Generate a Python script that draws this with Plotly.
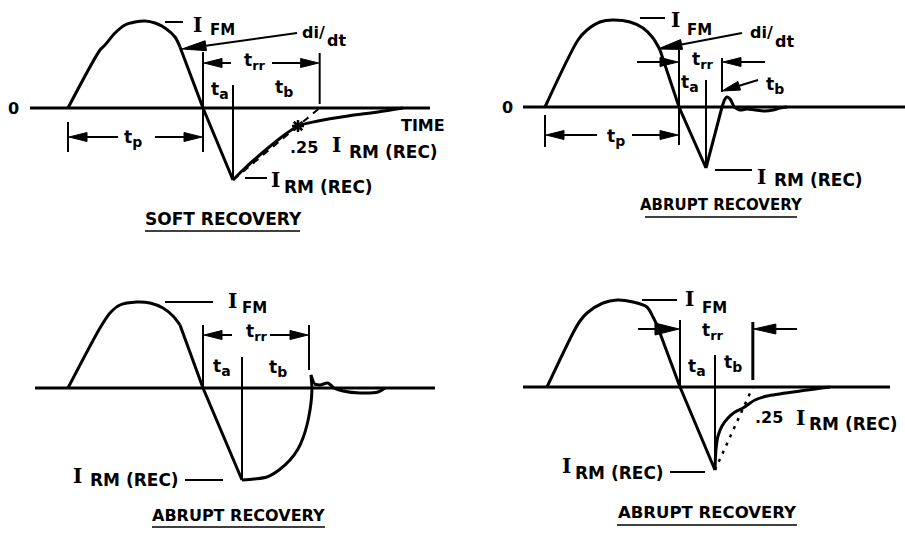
import math
import numpy as np
import plotly.graph_objects as go

FIG_W, FIG_H = 905, 535
INK = "black"
SANS = "DejaVu Sans"
SERIF = "DejaVu Serif"

# ---------------- waveform data: time t vs current i (forward current > 0) ----------------
# Soft recovery
soft_t = [0, 32, 37, 47, 57, 67, 77, 87, 97, 107, 112, 135, 165, 175, 186, 200, 215, 230, 250, 280, 310, 335]
soft_i = [0, 58, 63, 75, 83, 86, 87, 85, 80, 71, 61, 0, -72, -62, -52, -40, -28, -18, -13, -8, -4, 0]

# Abrupt recovery: snap-off with ringing
snap_t = [0, 33, 42, 55, 68, 85, 98, 108, 115, 134, 161, 171, 177, 180, 182, 185, 189, 195, 202, 210, 220, 228, 235, 242]
snap_i = [0, 67, 77, 85, 87, 85, 79, 69, 57, 0, -61, -22, 0, 8, 10, 8, 0, -3, -2, -3, -4, -3, -1, 0]

# Abrupt recovery: rounded t_b, overshoot and ringing
round_t = [0, 32, 42, 52, 69, 82, 95, 105, 112, 135, 174, 186, 199, 211, 222, 230, 235, 239, 242, 243.5, 244,
           243, 246, 252, 260, 266, 275, 292, 310, 317]
round_i = [0, 60, 75, 83, 86, 85, 80, 72, 63, 0, -92, -91, -89, -82, -72, -61, -50, -37, -22, -10, 0,
           13, 4, 3, 5, 0, -3, -5, -4, 0]

# Abrupt recovery: fast t_b with long tail
tail_t = [0, 26, 33, 40, 56, 70, 86, 100, 106, 110, 133, 168, 169, 171, 175, 181, 188, 196, 208, 220, 253, 283]
tail_i = [0, 54, 66, 74, 84, 87, 85, 80, 70, 62, 0, -83, -62, -49, -39, -31, -25, -21, -13, -9, -4, 0]

# drawing pieces of each waveform: (first index, last index, line shape)
soft_pieces = [(0, 10, "spline"), (10, 12, "linear"), (12, 21, "spline")]
snap_pieces = [(0, 8, "spline"), (8, 10, "linear"), (10, 12, "linear"), (12, 16, "spline"), (16, 23, "spline")]
round_pieces = [(0, 8, "spline"), (8, 10, "linear"), (10, 20, "spline"), (20, 22, "linear"), (22, 29, "spline")]
tail_pieces = [(0, 9, "spline"), (9, 11, "linear"), (11, 21, "spline")]

RRM_FRACTION = 0.25

# ---------------- panel geometry (pixels) ----------------
PANEL_BOX = [(0, 0, 452, 250), (452, 0, 905, 250), (0, 250, 452, 535), (452, 250, 905, 535)]
ORIGIN = [(68, 108), (545, 107), (68, 388), (547, 387)]
BASE_SPAN = [(-38, 362), (-22, 360), (-33, 367), (-24, 343)]
SFX = ["", "2", "3", "4"]

fig = go.Figure()
shapes, notes = [], []


def refs(k):
    return dict(xref="x" + SFX[k], yref="y" + SFX[k])


def wave(k, t, i, pieces, width=3):
    for a, b, shape in pieces:
        fig.add_trace(go.Scatter(
            x=t[a:b + 1], y=i[a:b + 1], mode="lines",
            line=dict(color=INK, width=width, shape=shape, smoothing=0.8),
            xaxis="x" + SFX[k], yaxis="y" + SFX[k], hoverinfo="skip"))


def seg(k, x0, y0, x1, y1, w=2):
    shapes.append(dict(type="line", x0=x0, y0=y0, x1=x1, y1=y1,
                       line=dict(color=INK, width=w), **refs(k)))


def arrow(k, tail, tip, L=18, hw=4.5, w=2):
    (tx, ty), (px, py) = tail, tip
    dx, dy = px - tx, py - ty
    n = math.hypot(dx, dy)
    ux, uy = dx / n, dy / n
    bx, by = px - L * ux, py - L * uy
    nx, ny = -uy, ux
    seg(k, tx, ty, bx, by, w)
    path = (f"M {px},{py} L {bx + hw * nx},{by + hw * ny} "
            f"L {bx - hw * nx},{by - hw * ny} Z")
    shapes.append(dict(type="path", path=path, fillcolor=INK,
                       line=dict(color=INK, width=1), **refs(k)))


def text(k, x, y, s, size=17, anchor="center", family=SANS):
    notes.append(dict(x=x, y=y, text=s, showarrow=False, xanchor=anchor, yanchor="middle",
                      font=dict(family=family, size=size, color=INK, weight="bold"), **refs(k)))


def tsub(sub, size=14):
    # "t" with a subscript kept close to full size
    return f"t<sub><span style='font-size:{size}px'>{sub}</span></sub>"


def current_label(k, xi, yi, xs, ys, sub, size=17):
    text(k, xi, yi, "I", size=20, family=SERIF)
    text(k, xs, ys, sub, size=size, anchor="left")


def markers(t, i, pieces):
    a, b, _ = pieces[1]
    t_zero = t[b - 1]
    k_min = int(np.argmin(i))
    return t_zero, t[k_min], i[k_min], k_min


def recovery_line(t, i, k_min):
    # straight line through I_RM and 0.25 I_RM, extended to zero current
    rec_t = np.array(t[k_min:])
    rec_i = np.array(i[k_min:])
    j = np.argmax(rec_i >= 0) + 1
    level = RRM_FRACTION * i[k_min]
    t25 = float(np.interp(level, rec_i[:j], rec_t[:j]))
    t_end = t[k_min] + (t25 - t[k_min]) / (1 - RRM_FRACTION)
    return t25, level, t_end


# ---------------- axes ----------------
layout_axes = {}
for k in range(4):
    L, T, R, B = PANEL_BOX[k]
    ox, oy = ORIGIN[k]
    layout_axes["xaxis" + SFX[k]] = dict(domain=[L / FIG_W, R / FIG_W], range=[L - ox, R - ox],
                                         visible=False, fixedrange=True, anchor="y" + SFX[k])
    layout_axes["yaxis" + SFX[k]] = dict(domain=[1 - B / FIG_H, 1 - T / FIG_H], range=[oy - B, oy - T],
                                         visible=False, fixedrange=True, anchor="x" + SFX[k])

# zero-current baselines
for k in range(4):
    fig.add_trace(go.Scatter(x=list(BASE_SPAN[k]), y=[0, 0], mode="lines",
                             line=dict(color=INK, width=3),
                             xaxis="x" + SFX[k], yaxis="y" + SFX[k], hoverinfo="skip"))

# ---------------- panel 1: soft recovery ----------------
k = 0
wave(k, soft_t, soft_i, soft_pieces)
tz, tirm, irm, kmin = markers(soft_t, soft_i, soft_pieces)
t25, i25, trr_end = recovery_line(soft_t, soft_i, kmin)
fig.add_trace(go.Scatter(x=[tirm, trr_end], y=[irm, 0], mode="lines",
                         line=dict(color=INK, width=2, dash="7px,6px"),
                         xaxis="x", yaxis="y", hoverinfo="skip"))
fig.add_trace(go.Scatter(x=[t25], y=[i25], mode="markers",
                         marker=dict(symbol="asterisk-open", size=10, color=INK,
                                     line=dict(color=INK, width=2.5)),
                         xaxis="x", yaxis="y", hoverinfo="skip"))
seg(k, tz, 56, tz, -44)
seg(k, trr_end, 55, trr_end, 4)
seg(k, tirm, 23, tirm, irm)
seg(k, 0, -14, 0, -44)
seg(k, 97, 86, 115, 86)
seg(k, 177, -70, 199, -70)
arrow(k, (163, 45), (tz + 1, 45))
arrow(k, (204, 45), (trr_end - 1, 45))
arrow(k, (50, -29), (1, -29))
arrow(k, (87, -29), (tz - 1, -29))
arrow(k, (229, 75), (114, 59), L=24, hw=5)
seg(k, 77, -123, 232, -123, 1.5)
text(k, -55, 0, "0", size=16)
current_label(k, 129, 83, 140, 78, "FM", size=15)
text(k, 232, 76, "di/", size=16, anchor="left")
text(k, 257, 68, "dt", size=16, anchor="left")
text(k, 187, 47, tsub("rr", 13))
text(k, 152, 18, tsub("a"))
text(k, 216, 20, tsub("b"))
text(k, 65, -30, tsub("p"))
text(k, 355, -17, "TIME", size=16)
text(k, 220, -39, ".25", size=16, anchor="left")
current_label(k, 268, -37, 279, -44, "RM (REC)")
current_label(k, 207, -72, 214, -79, "RM (REC)")
text(k, 155, -111, "SOFT RECOVERY", size=17)

# ---------------- panel 2: abrupt recovery, snap-off ----------------
k = 1
wave(k, snap_t, snap_i, snap_pieces)
tz, tirm, irm, kmin = markers(snap_t, snap_i, snap_pieces)
trr_end = snap_t[12]
seg(k, tz, 57, tz, -38)
seg(k, trr_end, 49, trr_end, 15)
seg(k, tirm, 27, tirm, irm)
seg(k, 0, -8, 0, -40)
seg(k, 95, 89, 120, 89)
seg(k, 170, -63, 207, -63)
arrow(k, (92, 45), (tz - 1, 45))
arrow(k, (220, 45), (trr_end + 1, 45))
arrow(k, (213, 27), (trr_end, 16))
arrow(k, (52, -28), (1, -28))
arrow(k, (87, -28), (tz - 1, -28))
arrow(k, (197, 74), (113, 58), L=24, hw=5)
seg(k, 100, -110, 252, -110, 1.5)
text(k, -38, 0, "0", size=16)
current_label(k, 130, 87, 140, 77, "FM", size=15)
text(k, 203, 75, "di/", size=16, anchor="left")
text(k, 228, 66, "dt", size=16, anchor="left")
text(k, 158, 47, tsub("rr", 13))
text(k, 145, 24, tsub("a"))
text(k, 230, 22, tsub("b"))
text(k, 71, -30, tsub("p"))
current_label(k, 216, -70, 227, -73, "RM (REC)")
text(k, 176, -98, "ABRUPT RECOVERY", size=15)

# ---------------- panel 3: abrupt recovery, rounded t_b ----------------
k = 2
wave(k, round_t, round_i, round_pieces)
tz, tirm, irm, kmin = markers(round_t, round_i, round_pieces)
trr_end = round_t[20]
seg(k, tz, 63, tz, 0)
seg(k, trr_end - 3, 63, trr_end - 3, 18)
seg(k, tirm, 31, tirm, irm)
seg(k, 97, 86, 145, 86)
seg(k, 117, -92, 155, -92)
arrow(k, (164, 53), (tz + 1, 53))
arrow(k, (202, 53), (trr_end - 4, 53))
seg(k, 84, -139, 257, -139, 1.5)
current_label(k, 164, 87, 172, 80, "FM", size=15)
text(k, 189, 56, tsub("rr", 13))
text(k, 154, 21, tsub("a"))
text(k, 210, 20, tsub("b"))
current_label(k, 9, -88, 20, -92, "RM (REC)")
text(k, 170, -127, "ABRUPT RECOVERY", size=16)

# ---------------- panel 4: abrupt recovery, long tail ----------------
k = 3
wave(k, tail_t, tail_i, tail_pieces)
tz, tirm, irm, kmin = markers(tail_t, tail_i, tail_pieces)
t25, i25, trr_end = recovery_line(tail_t, tail_i, kmin)
fig.add_trace(go.Scatter(x=[tirm, trr_end], y=[irm, 0], mode="lines",
                         line=dict(color=INK, width=2.5, dash="3px,6px"),
                         xaxis="x4", yaxis="y4", hoverinfo="skip"))
seg(k, tz, 67, tz, 0)
seg(k, trr_end, 65, trr_end, 7, 3)
seg(k, tirm, 32, tirm, irm)
seg(k, 95, 87, 130, 87)
seg(k, 123, -85, 158, -85)
arrow(k, (91, 58), (tz - 1, 58), L=24, hw=6)
arrow(k, (250, 58), (trr_end + 1, 58), L=22, hw=5)
seg(k, 70, -138, 250, -138, 1.5)
current_label(k, 142, 88, 153, 79, "FM", size=15)
text(k, 166, 56, tsub("rr", 13))
text(k, 150, 20, tsub("a"))
text(k, 186, 24, tsub("b"))
text(k, 206, -30, ".25", size=16, anchor="left")
current_label(k, 253, -31, 260, -37, "RM (REC)")
current_label(k, 19, -79, 26, -86, "RM (REC)")
text(k, 160, -125, "ABRUPT RECOVERY", size=16.5)

fig.update_layout(
    width=FIG_W, height=FIG_H,
    margin=dict(l=0, r=0, t=0, b=0),
    paper_bgcolor="white", plot_bgcolor="white",
    showlegend=False,
    shapes=shapes, annotations=notes,
    **layout_axes,
)

fig.write_html("out.html")
